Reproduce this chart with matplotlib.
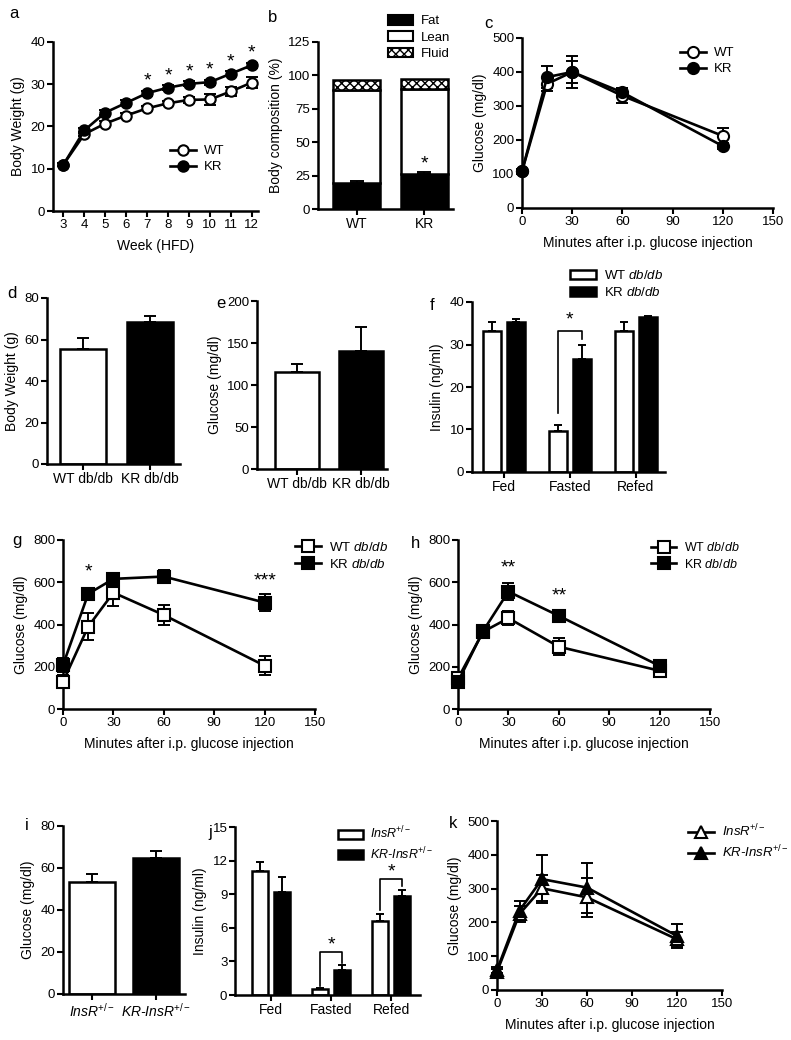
import numpy as np
import matplotlib
matplotlib.use('Agg')
from matplotlib import pyplot as plt
from matplotlib.patches import Patch

plt.rcParams['font.family'] = ['Liberation Sans', 'DejaVu Sans']
plt.rcParams['mathtext.fontset'] = 'custom'
plt.rcParams['mathtext.rm'] = 'Liberation Sans'
plt.rcParams['mathtext.it'] = 'Liberation Sans:italic'
plt.rcParams['mathtext.bf'] = 'Liberation Sans:bold'
plt.rcParams['font.size'] = 9.5
plt.rcParams['hatch.linewidth'] = 1.0

TICK = 9.5
LAB = 10
STAR = 14

# ---- data ----
# a: body weight on HFD
weeks = [3, 4, 5, 6, 7, 8, 9, 10, 11, 12]
a_wt = [11, 18.2, 20.7, 22.6, 24.3, 25.5, 26.3, 26.4, 28.3, 30.4]
a_wt_err = [0.4, 0.5, 0.5, 0.5, 0.5, 0.5, 0.8, 1.2, 1.0, 1.2]
a_kr = [11, 19.1, 23.3, 25.6, 27.9, 29.2, 30.1, 30.5, 32.5, 34.5]
a_kr_err = [0.4, 0.6, 0.6, 0.6, 0.6, 0.6, 0.6, 0.6, 0.6, 0.6]
a_star_weeks = [7, 8, 9, 10, 11, 12]

# b: body composition
b_groups = ['WT', 'KR']
b_fat = [19.5, 26.5]
b_fat_err = [1.5, 1.5]
b_lean = [69.5, 63.5]
b_fluid = [7.5, 7.5]

# c: GTT HFD
t_min = [0, 15, 30, 60, 120]
c_wt = [108, 365, 400, 330, 212]
c_wt_err = [8, 20, 48, 22, 24]
c_kr = [108, 385, 400, 340, 182]
c_kr_err = [8, 32, 32, 12, 8]

# d, e: db/db body weight and glucose
de_groups = ['WT db/db', 'KR db/db']
d_bw = [55.5, 68.3]
d_bw_err = [5.3, 3.2]
e_glc = [115, 140]
e_glc_err = [10, 29]

# f: insulin db/db
states = ['Fed', 'Fasted', 'Refed']
f_wt = [33.2, 9.6, 33.1]
f_wt_err = [2.0, 1.4, 2.3]
f_kr = [35.2, 26.5, 36.4]
f_kr_err = [0.7, 3.5, 0.3]

# g, h: GTT db/db
g_wt = [129, 390, 551, 445, 205]
g_wt_err = [30, 64, 62, 47, 45]
g_kr = [208, 545, 616, 627, 504]
g_kr_err = [35, 28, 15, 32, 40]
h_wt = [145, 366, 430, 295, 181]
h_wt_err = [15, 15, 33, 40, 12]
h_kr = [129, 370, 556, 441, 204]
h_kr_err = [15, 12, 42, 10, 10]

# i, j, k: InsR+/-
i_glc = [53.2, 64.6]
i_glc_err = [3.8, 3.5]
j_wt = [11.1, 0.54, 6.6]
j_wt_err = [0.8, 0.05, 0.65]
j_kr = [9.2, 2.2, 8.8]
j_kr_err = [1.3, 0.45, 0.6]
k_wt = [54, 225, 301, 274, 150]
k_wt_err = [8, 25, 38, 57, 22]
k_kr = [59, 235, 328, 303, 160]
k_kr_err = [8, 28, 71, 74, 35]

W, H = 791, 1040
fig = plt.figure(figsize=(W / 100, H / 100), dpi=100)


def axes_px(l, t, r, b):
    ax = fig.add_axes([l / W, 1 - b / H, (r - l) / W, (b - t) / H])
    for s in ['top', 'right']:
        ax.spines[s].set_visible(False)
    for s in ['left', 'bottom']:
        ax.spines[s].set_linewidth(1.8)
    ax.tick_params(direction='out', length=4, width=1.5, labelsize=TICK, pad=1.5)
    return ax


def letter(x, y, s):
    fig.text(x / W, 1 - y / H, s, fontsize=12, ha='center', va='center')


def leg_anchor(x, y, fs=9.5):
    return dict(loc='upper left', bbox_to_anchor=(x / W, 1 - y / H),
                bbox_transform=fig.transFigure, frameon=False, borderpad=0,
                borderaxespad=0, handletextpad=0.6, labelspacing=0.3,
                fontsize=fs)


def line_pair(ax, x, y1, e1, y2, e2, m, labels, ms=8):
    ax.errorbar(x, y1, yerr=e1, fmt='none', ecolor='k', elinewidth=1.4,
                capsize=4, capthick=1.4, zorder=2, clip_on=False)
    ax.errorbar(x, y2, yerr=e2, fmt='none', ecolor='k', elinewidth=1.4,
                capsize=4, capthick=1.4, zorder=2, clip_on=False)
    h1, = ax.plot(x, y1, color='k', lw=1.9, marker=m, ms=ms, mfc='white',
                  mec='k', mew=1.5, zorder=3, clip_on=False, label=labels[0])
    h2, = ax.plot(x, y2, color='k', lw=1.9, marker=m, ms=ms, mfc='k',
                  mec='k', mew=1.5, zorder=4, clip_on=False, label=labels[1])
    return [h1, h2]


def bar_pair(ax, vals, errs, labels, width=0.7):
    x = np.arange(len(vals))
    ax.bar(x, vals, width=width, color=['white', 'black'], edgecolor='k',
           linewidth=1.8, zorder=2)
    ax.errorbar(x, vals, yerr=[np.zeros(len(errs)), errs], fmt='none',
                ecolor='k', elinewidth=1.4, capsize=4, capthick=1.4, zorder=1)
    ax.set_xticks(x)
    ax.set_xticklabels(labels, fontsize=LAB)


def gtt_axes(ax, ymax, ystep):
    ax.set_xlim(0, 150)
    ax.set_ylim(0, ymax)
    ax.set_xticks([0, 30, 60, 90, 120, 150])
    ax.set_yticks(np.arange(0, ymax + 1, ystep))
    ax.set_xlabel('Minutes after i.p. glucose injection', fontsize=LAB, labelpad=6)
    ax.set_ylabel('Glucose (mg/dl)', fontsize=LAB)


# ---- a ----
ax = axes_px(53, 42, 258, 211)
hs = line_pair(ax, weeks, a_wt, a_wt_err, a_kr, a_kr_err, 'o', ['WT', 'KR'], ms=7.5)
ax.set_xlim(2.5, 12.3)
ax.set_ylim(0, 40)
ax.set_xticks(weeks)
ax.set_yticks([0, 10, 20, 30, 40])
for w in a_star_weeks:
    ax.text(w, a_kr[weeks.index(w)] + 2.8, '*', ha='center', va='center', fontsize=STAR)
ax.set_xlabel('Week (HFD)', fontsize=LAB, labelpad=6)
ax.set_ylabel('Body Weight (g)', fontsize=LAB)
fig.legend(handles=hs, handlelength=2, **leg_anchor(170, 145))
letter(14, 14, 'a')

# ---- b ----
ax = axes_px(318, 42, 453, 209)
x = np.arange(2)
ax.bar(x, b_fat, width=0.7, color='black', edgecolor='k', linewidth=1.8, zorder=2)
ax.bar(x, b_lean, width=0.7, bottom=b_fat, color='white', edgecolor='k',
       linewidth=1.8, zorder=2)
bot2 = [f + l for f, l in zip(b_fat, b_lean)]
ax.bar(x, b_fluid, width=0.7, bottom=bot2, color='white', edgecolor='k',
       hatch='xxxx', linewidth=1.8, zorder=2)
ax.errorbar(x, b_fat, yerr=[[0, 0], b_fat_err], fmt='none', ecolor='k',
            elinewidth=1.4, capsize=5, capthick=1.4, zorder=3)
ax.text(1, b_fat[1] + 7, '*', ha='center', va='center', fontsize=STAR)
ax.set_xlim(-0.58, 1.43)
ax.set_ylim(0, 125)
ax.set_yticks([0, 25, 50, 75, 100, 125])
ax.set_xticks(x)
ax.set_xticklabels(b_groups, fontsize=LAB)
ax.set_ylabel('Body composition (%)', fontsize=LAB)
hb = [Patch(facecolor='black', edgecolor='k', lw=1.5, label='Fat'),
      Patch(facecolor='white', edgecolor='k', lw=1.5, label='Lean'),
      Patch(facecolor='white', edgecolor='k', lw=1.5, hatch='xxxx', label='Fluid')]
fig.legend(handles=hb, handlelength=1.9, handleheight=0.75,
           **leg_anchor(388, 15))
letter(273, 18, 'b')

# ---- c ----
ax = axes_px(522, 38, 773, 208)
hs = line_pair(ax, t_min, c_wt, c_wt_err, c_kr, c_kr_err, 'o', ['WT', 'KR'])
gtt_axes(ax, 500, 100)
fig.legend(handles=hs, handlelength=2, **leg_anchor(680, 47))
letter(488, 23, 'c')

# ---- d ----
ax = axes_px(47, 298, 180, 464)
bar_pair(ax, d_bw, d_bw_err, de_groups)
ax.set_xlim(-0.54, 1.45)
ax.set_ylim(0, 80)
ax.set_yticks([0, 20, 40, 60, 80])
ax.set_ylabel('Body Weight (g)', fontsize=LAB)
letter(12, 293, 'd')

# ---- e ----
ax = axes_px(257, 301, 387, 469)
bar_pair(ax, e_glc, e_glc_err, de_groups, width=0.69)
ax.set_xlim(-0.62, 1.4)
ax.set_ylim(0, 200)
ax.set_yticks([0, 50, 100, 150, 200])
ax.set_ylabel('Glucose (mg/dl)', fontsize=LAB)
letter(221, 303, 'e')

# ---- f ----
ax = axes_px(472, 302, 665, 472)
xs = np.arange(3)
ax.bar(xs - 0.18, f_wt, width=0.27, color='white', edgecolor='k', linewidth=1.8, zorder=2)
ax.bar(xs + 0.18, f_kr, width=0.27, color='black', edgecolor='k', linewidth=1.8, zorder=2)
ax.errorbar(xs - 0.18, f_wt, yerr=[[0] * 3, f_wt_err], fmt='none', ecolor='k',
            elinewidth=1.4, capsize=3, capthick=1.4, zorder=1)
ax.errorbar(xs + 0.18, f_kr, yerr=[[0] * 3, f_kr_err], fmt='none', ecolor='k',
            elinewidth=1.4, capsize=3, capthick=1.4, zorder=1)
ax.plot([0.82, 0.82, 1.18, 1.18], [13.8, 33.2, 33.2, 31.4], color='k', lw=1.2)
ax.text(1.0, 35.8, '*', ha='center', va='center', fontsize=STAR)
ax.set_xlim(-0.48, 2.44)
ax.set_ylim(0, 40)
ax.set_yticks([0, 10, 20, 30, 40])
ax.set_xticks(xs)
ax.set_xticklabels(states, fontsize=LAB)
ax.set_ylabel('Insulin (ng/ml)', fontsize=LAB)
hf = [Patch(facecolor='white', edgecolor='k', lw=1.8, label=r'WT $\mathit{db/db}$'),
      Patch(facecolor='black', edgecolor='k', lw=1.8, label=r'KR $\mathit{db/db}$')]
fig.legend(handles=hf, handlelength=2.0, handleheight=0.75, **leg_anchor(570, 269))
letter(432, 305, 'f')

# ---- g ----
ax = axes_px(63, 540, 315, 709)
hs = line_pair(ax, t_min, g_wt, g_wt_err, g_kr, g_kr_err, 's',
               [r'WT $\mathit{db/db}$', r'KR $\mathit{db/db}$'])
gtt_axes(ax, 800, 200)
ax.text(15, 650, '*', ha='center', va='center', fontsize=STAR)
ax.text(120, 605, '***', ha='center', va='center', fontsize=STAR)
fig.legend(handles=hs, handlelength=2, **leg_anchor(295, 541))
letter(17, 540, 'g')

# ---- h ----
ax = axes_px(458, 540, 710, 709)
hs = line_pair(ax, t_min, h_wt, h_wt_err, h_kr, h_kr_err, 's',
               [r'WT $\mathit{db/db}$', r'KR $\mathit{db/db}$'])
gtt_axes(ax, 800, 200)
ax.text(30, 668, '**', ha='center', va='center', fontsize=STAR)
ax.text(60, 535, '**', ha='center', va='center', fontsize=STAR)
fig.legend(handles=hs, handlelength=2, **leg_anchor(651, 541, fs=9))
letter(415, 543, 'h')

# ---- i ----
ins_labels = [r'InsR$^{+/-}$', r'KR-InsR$^{+/-}$']
ax = axes_px(63, 826, 185, 994)
bar_pair(ax, i_glc, i_glc_err, ins_labels, width=0.72)
for t in ax.get_xticklabels():
    t.set_style('italic')
ax.set_xlim(-0.45, 1.45)
ax.set_ylim(0, 80)
ax.set_yticks([0, 20, 40, 60, 80])
ax.set_ylabel('Glucose (mg/dl)', fontsize=LAB)
letter(27, 825, 'i')

# ---- j ----
ax = axes_px(235, 827, 420, 995)
ax.bar(xs - 0.18, j_wt, width=0.27, color='white', edgecolor='k', linewidth=1.8, zorder=2)
ax.bar(xs + 0.18, j_kr, width=0.27, color='black', edgecolor='k', linewidth=1.8, zorder=2)
ax.errorbar(xs - 0.18, j_wt, yerr=[[0] * 3, j_wt_err], fmt='none', ecolor='k',
            elinewidth=1.4, capsize=3, capthick=1.4, zorder=1)
ax.errorbar(xs + 0.18, j_kr, yerr=[[0] * 3, j_kr_err], fmt='none', ecolor='k',
            elinewidth=1.4, capsize=3, capthick=1.4, zorder=1)
ax.plot([0.82, 0.82, 1.18, 1.18], [0.8, 3.8, 3.8, 2.9], color='k', lw=1.2)
ax.text(1.0, 4.5, '*', ha='center', va='center', fontsize=STAR)
ax.plot([1.82, 1.82, 2.18, 2.18], [7.6, 10.4, 10.4, 9.7], color='k', lw=1.2)
ax.text(2.0, 10.95, '*', ha='center', va='center', fontsize=STAR)
ax.set_xlim(-0.6, 2.48)
ax.set_ylim(0, 15)
ax.set_yticks([0, 3, 6, 9, 12, 15])
ax.set_xticks(xs)
ax.set_xticklabels(states, fontsize=LAB)
ax.set_ylabel('Insulin (ng/ml)', fontsize=LAB)
hj = [Patch(facecolor='white', edgecolor='k', lw=1.8, label=ins_labels[0]),
      Patch(facecolor='black', edgecolor='k', lw=1.8, label=ins_labels[1])]
lg = fig.legend(handles=hj, handlelength=2.0, handleheight=0.75, **leg_anchor(338, 825, fs=9))
for t in lg.get_texts():
    t.set_style('italic')
letter(210, 832, 'j')

# ---- k ----
ax = axes_px(497, 821, 722, 990)
hs = line_pair(ax, t_min, k_wt, k_wt_err, k_kr, k_kr_err, '^', ins_labels, ms=8.5)
gtt_axes(ax, 500, 100)
lg = fig.legend(handles=hs, handlelength=2, **leg_anchor(688, 823))
for t in lg.get_texts():
    t.set_style('italic')
letter(453, 823, 'k')

fig.savefig('out.png', dpi=100)
